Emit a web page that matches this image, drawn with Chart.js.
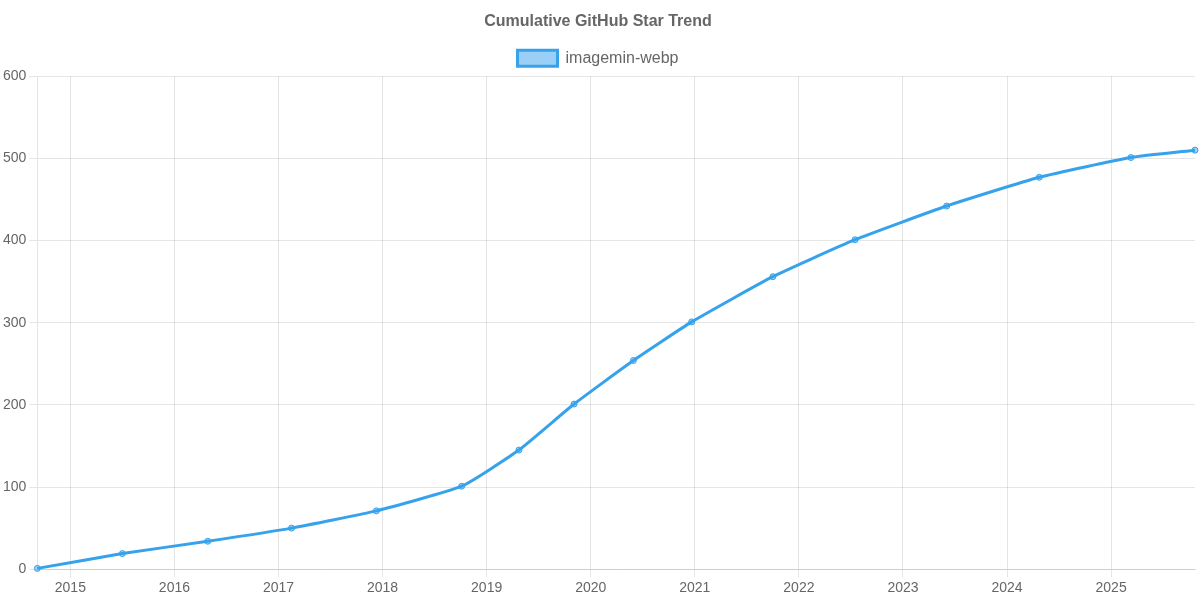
<!DOCTYPE html>
<html>
<head>
<meta charset="utf-8">
<script src="https://cdn.jsdelivr.net/npm/chart.js@4"></script>
<style>
  html, body { margin: 0; padding: 0; background: #fff; }
  #wrap { width: 1200px; height: 600px; }
</style>
</head>
<body>
<div id="wrap"><canvas id="starChart"></canvas></div>
<script>
// star history, x = decimal year
const years = [2014.683, 2015.50, 2016.32, 2017.125, 2017.94, 2018.76, 2019.31, 2019.84,
  2020.41, 2020.97, 2021.75, 2022.54, 2023.42, 2024.31, 2025.19, 2025.806]
const stars = [1, 19, 34, 50, 71, 101, 145, 201, 254, 301, 356, 401, 442, 477, 501, 510]

const seriesName = 'imagemin-webp'
const titleText = 'Cumulative GitHub Star Trend'

const points = years.map((y, i) => ({ x: y, y: stars[i] }))

Chart.defaults.color = '#666'

const ctx = document.getElementById('starChart').getContext('2d')
new Chart(ctx, {
  type: 'line',
  data: {
    datasets: [{
      label: seriesName,
      data: points,
      borderColor: '#36A2EB',
      backgroundColor: 'rgba(54, 162, 235, 0.5)',
      borderWidth: 3,
      pointRadius: 3,
      pointBorderWidth: 1,
      tension: 0.15,
      clip: false,
      fill: false
    }]
  },
  options: {
    responsive: true,
    maintainAspectRatio: false,
    animation: false,
    layout: { padding: { right: 4 } },
    plugins: {
      title: {
        display: true,
        text: titleText,
        font: { size: 16, weight: 'bold' },
        padding: { top: 12, bottom: 9 }
      },
      legend: {
        labels: { font: { size: 16 }, boxWidth: 40 }
      }
    },
    scales: {
      x: {
        type: 'linear',
        min: years[0],
        max: years[years.length - 1],
        ticks: {
          stepSize: 1,
          includeBounds: false,
          font: { size: 14 },
          callback: v => String(v)
        }
      },
      y: {
        min: 0,
        max: 600,
        ticks: { stepSize: 100, font: { size: 14 } }
      }
    }
  }
})
</script>
</body>
</html>
